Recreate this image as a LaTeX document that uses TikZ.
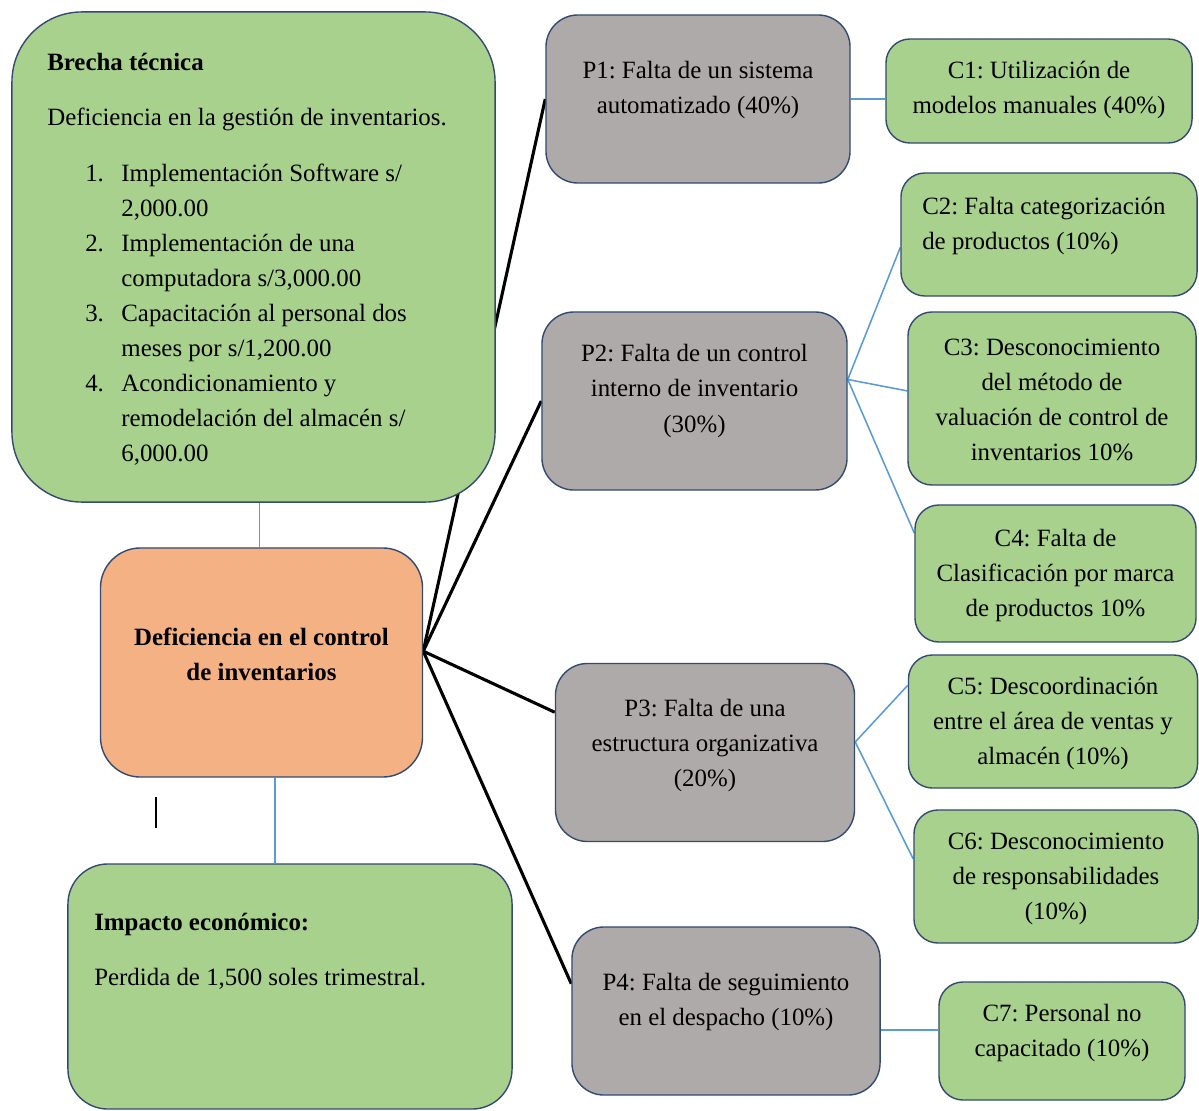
\documentclass[tikz,border=0pt]{standalone}
\usepackage{fontspec}
\setmainfont{Liberation Serif}
\usetikzlibrary{positioning, calc, backgrounds}
\frenchspacing

\begin{document}
\begin{tikzpicture}[
    x=0.025cm, y=-0.025cm,
    every node/.style={font=\fontsize{17.7}{24.9}\selectfont},
]
% Colors
\definecolor{greenfill}{RGB}{169,209,142}
\definecolor{orangefill}{RGB}{244,177,131}
\definecolor{grayfill}{RGB}{174,170,170}
\definecolor{boxstroke}{RGB}{52,74,112}
\definecolor{linkblue}{RGB}{91,155,213}
% ============================================================
% Styles
% ============================================================
\tikzset{
    box/.style={
        draw=boxstroke,
        line width=1pt,
        inner sep=0pt,
    },
    bigbox/.style={box, fill=greenfill, rounded corners=1cm},
    causebox/.style={box, fill=grayfill, rounded corners=0.8cm},
    subbox/.style={box, fill=greenfill, rounded corners=0.6cm},
    txt/.style={inner sep=0pt, align=center},
    mainline/.style={black, line width=2.2pt},
    subline/.style={linkblue, line width=1.1pt},
}
\useasboundingbox (0,0) rectangle (1199,1111);

% --- Left column ---
% Brecha tecnica
\node[bigbox, rounded corners=1.75cm, minimum width=12.075cm, minimum height=12.25cm] (brecha) at (253.5, 257) {};
\node[inner sep=0pt, anchor=base west, font=\fontsize{17.7}{24.9}\selectfont\bfseries] (brechatitle) at (47, 70) {Brecha técnica};
\node[inner sep=0pt, anchor=base west] (brechadesc) at (47, 125) {Deficiencia en la gestión de inventarios.};
\node[inner sep=0pt, anchor=base west] (brechalist) at (85, 181) {%
\begin{tabular}[t]{@{}r@{\hspace{12.4pt}}l@{}}
1. & Implementación Software s/\\
   & 2,000.00\\
2. & Implementación de una\\
   & computadora s/3,000.00\\
3. & Capacitación al personal dos\\
   & meses por s/1,200.00\\
4. & Acondicionamiento y\\
   & remodelación del almacén s/\\
   & 6,000.00
\end{tabular}};
% Problema central
\node[box, fill=orangefill, rounded corners=1cm, minimum width=8.05cm, minimum height=5.725cm] (problema) at (261.5, 662.5) {};
\node[txt, font=\fontsize{17.7}{24.9}\selectfont\bfseries] (problematxt) at ($(problema.center) + (0, -8)$) {Deficiencia en el control\\de inventarios};
% Impacto economico
\node[bigbox, minimum width=11.1cm, minimum height=6.125cm] (impacto) at (290, 986.5) {};
\node[inner sep=0pt, anchor=base west, font=\fontsize{17.7}{24.9}\selectfont\bfseries] (impactotitle) at (94, 930) {Impacto económico:};
\node[inner sep=0pt, anchor=base west] (impactodesc) at (94, 985) {Perdida de 1,500 soles trimestral.};

% --- Causes P1..P4 ---
\node[causebox, minimum width=7.6cm, minimum height=4.2cm] (p1) at (698, 99) {};
\node[txt] (p1txt) at ($(p1.center) + (0, -9)$) {P1: Falta de un sistema\\automatizado (40\%)};
\node[causebox, minimum width=7.625cm, minimum height=4.45cm] (p2) at (694.5, 401) {};
\node[txt] (p2txt) at ($(p2.center) + (0, -10)$) {P2: Falta de un control\\interno de inventario\\(30\%)};
\node[causebox, minimum width=7.475cm, minimum height=4.45cm] (p3) at (705, 752.5) {};
\node[txt] (p3txt) at ($(p3.center) + (0, -7)$) {P3: Falta de una\\estructura organizativa\\(20\%)};
\node[causebox, minimum width=7.7cm, minimum height=4.2cm] (p4) at (726, 1011) {};
\node[txt] (p4txt) at ($(p4.center) + (0, -9)$) {P4: Falta de seguimiento\\en el despacho (10\%)};

% --- Sub-causes C1..C7 ---
\node[subbox, minimum width=7.65cm, minimum height=2.6cm] (c1) at (1039, 91) {};
\node[txt] (c1txt) at ($(c1.center) + (0, -1)$) {C1: Utilización de\\modelos manuales (40\%)};
\node[subbox, minimum width=7.4cm, minimum height=3.075cm] (c2) at (1049, 234.5) {};
\node[txt, align=left, anchor=west] (c2txt) at (922, 226) {C2: Falta categorización\\de productos (10\%)};
\node[subbox, minimum width=7.2cm, minimum height=4.325cm] (c3) at (1052, 398.5) {};
\node[txt] (c3txt) at ($(c3.center) + (0, 1)$) {C3: Desconocimiento\\del método de\\valuación de control de\\inventarios 10\%};
\node[subbox, minimum width=7.025cm, minimum height=3.425cm] (c4) at (1055.5, 573.5) {};
\node[txt] (c4txt) at ($(c4.center) + (0, 2)$) {C4: Falta de\\Clasificación por marca\\de productos 10\%};
\node[subbox, minimum width=7.225cm, minimum height=3.325cm] (c5) at (1053, 721.5) {};
\node[txt] (c5txt) at ($(c5.center) + (0, 2)$) {C5: Descoordinación\\entre el área de ventas y\\almacén (10\%)};
\node[subbox, minimum width=7.1cm, minimum height=3.325cm] (c6) at (1056, 876.5) {};
\node[txt] (c6txt) at ($(c6.center) + (0, 2)$) {C6: Desconocimiento\\de responsabilidades\\(10\%)};
\node[subbox, minimum width=6.15cm, minimum height=2.95cm] (c7) at (1062, 1041) {};
\node[txt] (c7txt) at ($(c7.center) + (0, -8)$) {C7: Personal no\\capacitado (10\%)};

% ============================================================
% Connectors (behind the boxes)
% ============================================================
\begin{scope}[on background layer]
% Central problem to causes
\foreach \p/\a in {p1/west, p2/west, p3/165, p4/170} {
    \draw[mainline] (problema.4) -- (\p.\a);
}
% Left column links
\coordinate (brechaout) at ($(problema.north) + (-2, 0)$);
\draw[subline] (brechaout) -- (brechaout |- brecha.south);
\coordinate (impin) at ($(problema.south) + (13.5, 0)$);
\draw[subline] (impin) -- (impin |- impacto.north);
% Causes to sub-causes
\draw[subline] (p1.east) -- (p1.east -| c1.west);
\foreach \c/\a in {c2/185, c3/177, c4/164} {
    \draw[subline] (p2.8) -- (\c.\a);
}
\foreach \c/\a in {c5/166, c6/173} {
    \draw[subline] (p3.4) -- (\c.\a);
}
\draw[subline] (p4.-7) -- (p4.-7 -| c7.west);
\end{scope}
% stray mark under the central box
\draw[line width=1.2pt] (156, 797) -- (156, 828);
\end{tikzpicture}
\end{document}
